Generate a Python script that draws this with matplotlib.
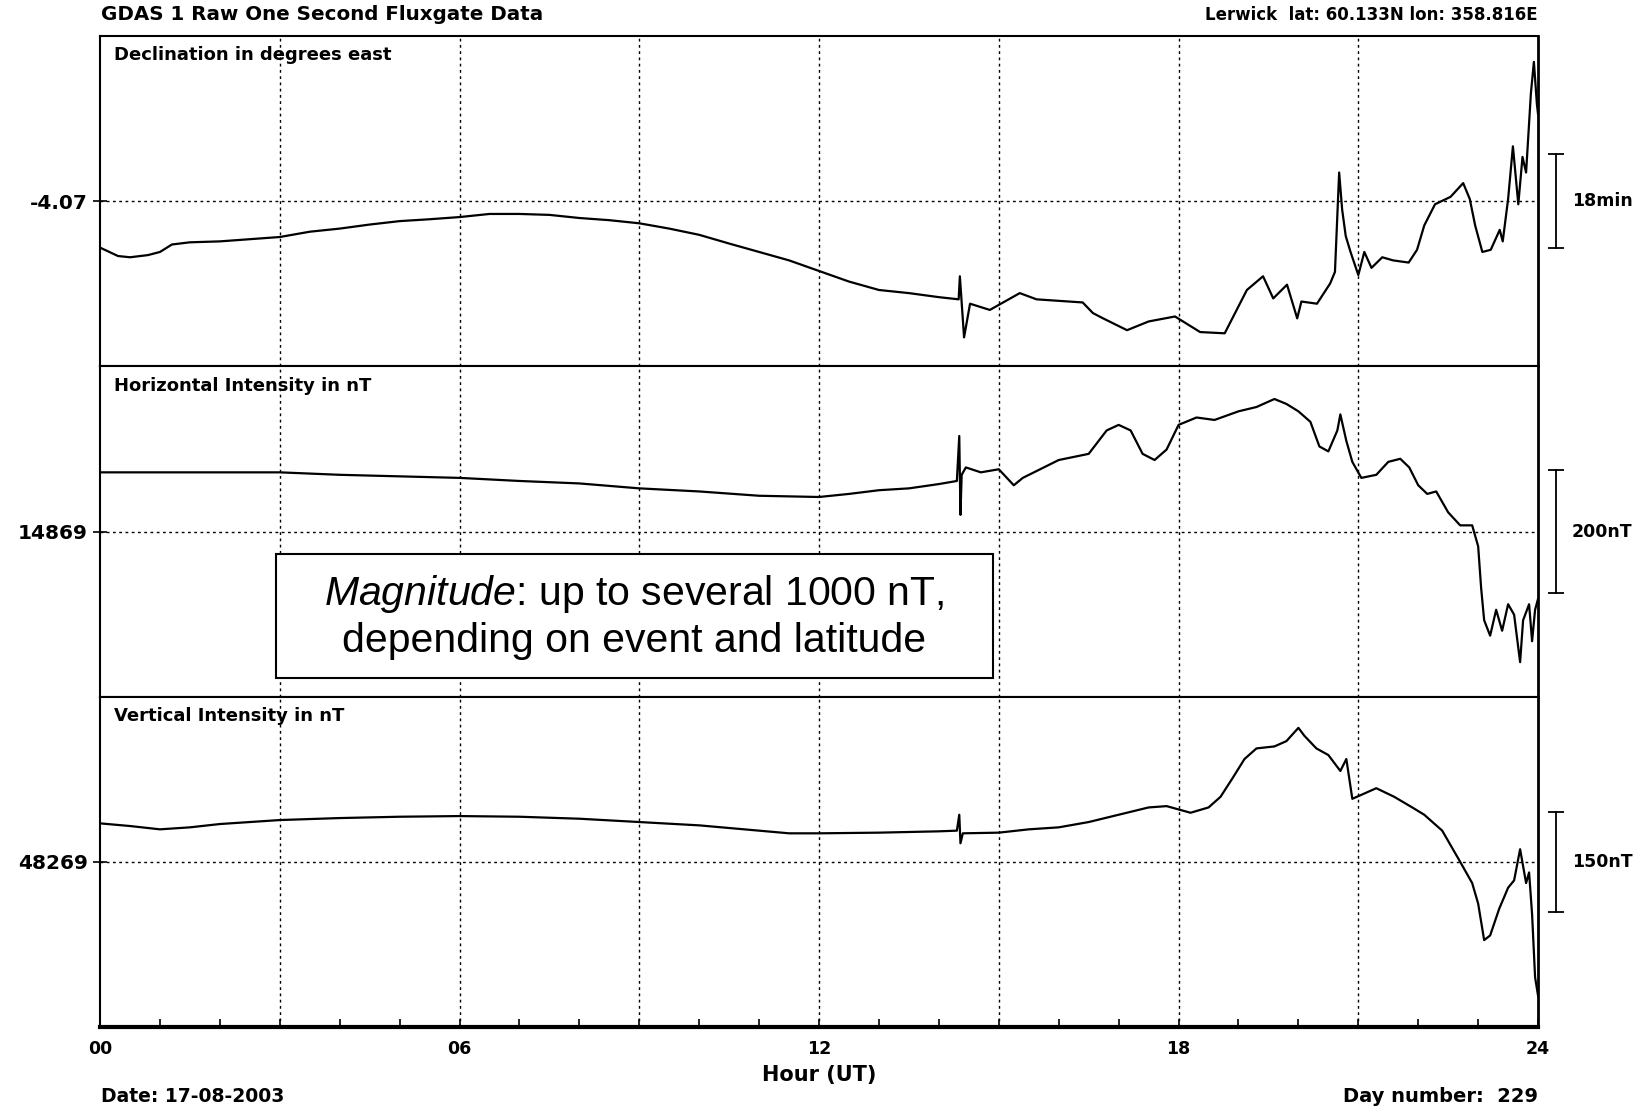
import matplotlib
matplotlib.use("Agg")
import matplotlib.pyplot as plt
from matplotlib.patches import Rectangle
from matplotlib.ticker import FixedLocator, MultipleLocator
from matplotlib.transforms import blended_transform_factory

plt.rcParams["font.family"] = "DejaVu Sans"
plt.rcParams["font.weight"] = "bold"
plt.rcParams["mathtext.fontset"] = "custom"
plt.rcParams["mathtext.rm"] = "Liberation Sans:weight=normal"
plt.rcParams["mathtext.it"] = "Liberation Sans:italic:weight=normal"

# Declination (degrees east)
d_hours = [0, 0.3, 0.5, 0.8, 1.0, 1.2, 1.5, 2.0, 2.5, 3.0, 3.5, 4.0, 4.5, 5.0, 5.5,
           6.0, 6.5, 7.0, 7.5, 8.0, 8.5, 9.0, 9.5, 10.0, 10.5, 11.0, 11.5, 12.0,
           12.5, 13.0, 13.5, 14.0, 14.33, 14.35, 14.42, 14.52, 14.85, 15.35, 15.63,
           16.4, 16.57, 16.74, 17.14, 17.5, 17.94, 18.36, 18.77, 19.14, 19.41,
           19.58, 19.81, 19.98, 20.05, 20.31, 20.53, 20.61, 20.68, 20.73, 20.79,
           20.87, 21.0, 21.1, 21.22, 21.4, 21.58, 21.84, 21.98, 22.1, 22.28, 22.54,
           22.75, 22.86, 22.95, 23.07, 23.21, 23.36, 23.41, 23.5, 23.58, 23.67,
           23.74, 23.8, 23.88, 23.93, 23.98, 24.0]
d_values = [-4.219, -4.246, -4.250, -4.243, -4.233, -4.209, -4.202, -4.199, -4.192,
            -4.185, -4.168, -4.158, -4.145, -4.134, -4.128, -4.121, -4.111, -4.111,
            -4.114, -4.124, -4.131, -4.141, -4.158, -4.178, -4.206, -4.233, -4.260,
            -4.294, -4.328, -4.355, -4.365, -4.378, -4.385, -4.311, -4.507, -4.399,
            -4.419, -4.365, -4.385, -4.395, -4.429, -4.446, -4.484, -4.456, -4.440,
            -4.490, -4.494, -4.355, -4.311, -4.382, -4.338, -4.446, -4.392, -4.399,
            -4.334, -4.297, -3.978, -4.097, -4.182, -4.233, -4.307, -4.233, -4.284,
            -4.250, -4.260, -4.267, -4.226, -4.148, -4.080, -4.056, -4.012, -4.063,
            -4.148, -4.233, -4.226, -4.162, -4.199, -4.063, -3.894, -4.080, -3.928,
            -3.978, -3.724, -3.623, -3.758, -3.792]

# Horizontal intensity (nT)
h_hours = [0, 1, 3, 4, 6, 7, 8, 9, 10, 11, 12, 12.5, 13, 13.5, 14, 14.3, 14.34,
           14.36, 14.38, 14.45, 14.7, 15.0, 15.25, 15.4, 16.0, 16.5, 16.8, 17.0,
           17.2, 17.4, 17.6, 17.8, 18.0, 18.3, 18.6, 19.0, 19.3, 19.6, 19.8, 20.0,
           20.2, 20.35, 20.5, 20.65, 20.7, 20.8, 20.9, 21.05, 21.3, 21.5, 21.7,
           21.85, 22.0, 22.15, 22.3, 22.5, 22.7, 22.9, 23.0, 23.05, 23.1, 23.2,
           23.3, 23.4, 23.5, 23.6, 23.7, 23.75, 23.85, 23.9, 23.95, 24.0]
h_values = [14965, 14965, 14965, 14961, 14956, 14951, 14947, 14939, 14934, 14927,
            14925, 14930, 14936, 14939, 14946, 14951, 15024, 14896, 14961, 14973,
            14965, 14970, 14944, 14956, 14985, 14995, 15033, 15042, 15033, 14995,
            14985, 15002, 15042, 15054, 15050, 15064, 15071, 15084, 15076, 15064,
            15047, 15007, 14999, 15033, 15059, 15016, 14982, 14956, 14961, 14982,
            14987, 14973, 14944, 14930, 14934, 14900, 14879, 14879, 14845, 14777,
            14725, 14700, 14742, 14708, 14751, 14734, 14657, 14725, 14751, 14691,
            14742, 14760]

# Vertical intensity (nT)
z_hours = [0, 0.5, 1.0, 1.5, 2.0, 3.0, 4.0, 5.0, 6.0, 7.0, 8.0, 9.0, 10.0, 11.0,
           11.5, 12.0, 13.0, 14.0, 14.3, 14.34, 14.36, 14.4, 15.0, 15.5, 16.0, 16.5,
           17.0, 17.5, 17.8, 18.0, 18.2, 18.5, 18.7, 18.9, 19.1, 19.3, 19.6, 19.8,
           20.0, 20.1, 20.3, 20.5, 20.7, 20.8, 20.9, 21.1, 21.3, 21.6, 21.9, 22.1,
           22.4, 22.7, 22.9, 23.0, 23.1, 23.2, 23.35, 23.5, 23.6, 23.7, 23.8, 23.85,
           23.9, 23.95, 24.0]
z_values = [48327, 48323, 48318, 48321, 48326, 48332, 48335, 48337, 48338, 48337,
            48334, 48329, 48324, 48316, 48312, 48312, 48313, 48315, 48316, 48340,
            48297, 48312, 48313, 48318, 48321, 48329, 48340, 48351, 48353, 48348,
            48343, 48351, 48367, 48395, 48424, 48440, 48443, 48451, 48471, 48459,
            48440, 48430, 48406, 48424, 48364, 48372, 48380, 48367, 48351, 48340,
            48316, 48269, 48237, 48206, 48151, 48158, 48198, 48230, 48241, 48288,
            48237, 48253, 48190, 48095, 48067]

panel_titles = ["Declination in degrees east", "Horizontal Intensity in nT",
                "Vertical Intensity in nT"]
centers = [-4.07, 14869, 48269]
center_labels = ["-4.07", "14869", "48269"]
half_ranges = [0.53, 268, 249]
bar_sizes = [0.3, 200, 150]
bar_labels = ["18min", "200nT", "150nT"]
hour_ticks = [0, 6, 12, 18, 24]
hour_labels = ["00", "06", "12", "18", "24"]

series = [(d_hours, d_values), (h_hours, h_values), (z_hours, z_values)]

fig, axes = plt.subplots(3, 1, figsize=(16.48, 11.08), dpi=100, sharex=True)
fig.subplots_adjust(left=0.0607, right=0.9333, top=0.9675, bottom=0.0731, hspace=0)

grid_style = dict(color="black", lw=1.0, ls=(0, (2, 2.5)), zorder=1)

for i, ax in enumerate(axes):
    xs, ys = series[i]
    c = centers[i]
    ax.plot(xs, ys, color="black", lw=1.6, zorder=3)
    ax.set_xlim(0, 24)
    ax.set_ylim(c - half_ranges[i], c + half_ranges[i])
    for h in range(3, 24, 3):
        ax.axvline(h, **grid_style)
    ax.axhline(c, **grid_style)

    ax.set_yticks([c])
    ax.set_yticklabels([center_labels[i]])
    ax.tick_params(axis="y", direction="inout", length=9.5, width=1.2, pad=4,
                   labelsize=14.5, right=False)
    for sp in ax.spines.values():
        sp.set_linewidth(1.5)
    ax.spines["right"].set_linewidth(2)

    ax.annotate(panel_titles[i], xy=(0, 1), xycoords="axes fraction",
                xytext=(10, -14), textcoords="offset points",
                ha="left", va="center", fontsize=13, fontweight="bold")

    # scale bar on the right
    tr = blended_transform_factory(ax.transAxes, ax.transData)
    half = bar_sizes[i] / 2
    ax.plot([1.0125, 1.0125], [c - half, c + half], color="black", lw=1.3,
            transform=tr, clip_on=False, marker="_", markersize=11, mew=1.3)
    ax.text(1.0236, c, bar_labels[i], transform=tr, ha="left", va="center",
            fontsize=12.5, fontweight="bold")

    if i < 2:
        ax.tick_params(axis="x", which="both", bottom=False, labelbottom=False)

bottom = axes[2]
bottom.xaxis.set_major_locator(FixedLocator(hour_ticks))
bottom.xaxis.set_minor_locator(MultipleLocator(1))
bottom.set_xticklabels(hour_labels)
bottom.tick_params(axis="x", which="both", direction="in", length=6, width=1.2,
                   pad=9, labelsize=12.5)
bottom.spines["bottom"].set_linewidth(3)

fig.text(0.497, 1 - 1075 / 1108, "Hour (UT)", ha="center", va="center",
         fontsize=15, fontweight="bold")
fig.text(0.0615, 1 - 15 / 1108, "GDAS 1 Raw One Second Fluxgate Data",
         ha="left", va="center", fontsize=14.3, fontweight="bold")
fig.text(0.9333, 1 - 15 / 1108, "Lerwick  lat: 60.133N lon: 358.816E",
         ha="right", va="center", fontsize=12, fontweight="bold")
fig.text(0.0615, 1 - 1096 / 1108, "Date: 17-08-2003", ha="left", va="center",
         fontsize=13.5, fontweight="bold")
fig.text(0.9333, 1 - 1096 / 1108, "Day number:  229", ha="right", va="center",
         fontsize=14, fontweight="bold")

# annotation box
bx0, bx1 = 276 / 1648, 993 / 1648
by0, by1 = 1 - 678 / 1108, 1 - 554 / 1108
fig.patches.append(Rectangle((bx0, by0), bx1 - bx0, by1 - by0, transform=fig.transFigure,
                             facecolor="white", edgecolor="black", lw=1.5, zorder=10))
fig.text((bx0 + bx1) / 2, 1 - 594 / 1108,
         r"$\it{Magnitude}$: up to several 1000 nT,",
         ha="center", va="center", fontsize=29.5, fontweight="normal",
         family="Liberation Sans", zorder=11)
fig.text((bx0 + bx1) / 2, 1 - 641 / 1108, "depending on event and latitude",
         ha="center", va="center", fontsize=29.5, fontweight="normal",
         family="Liberation Sans", zorder=11)

fig.savefig("out.png", dpi=100)
